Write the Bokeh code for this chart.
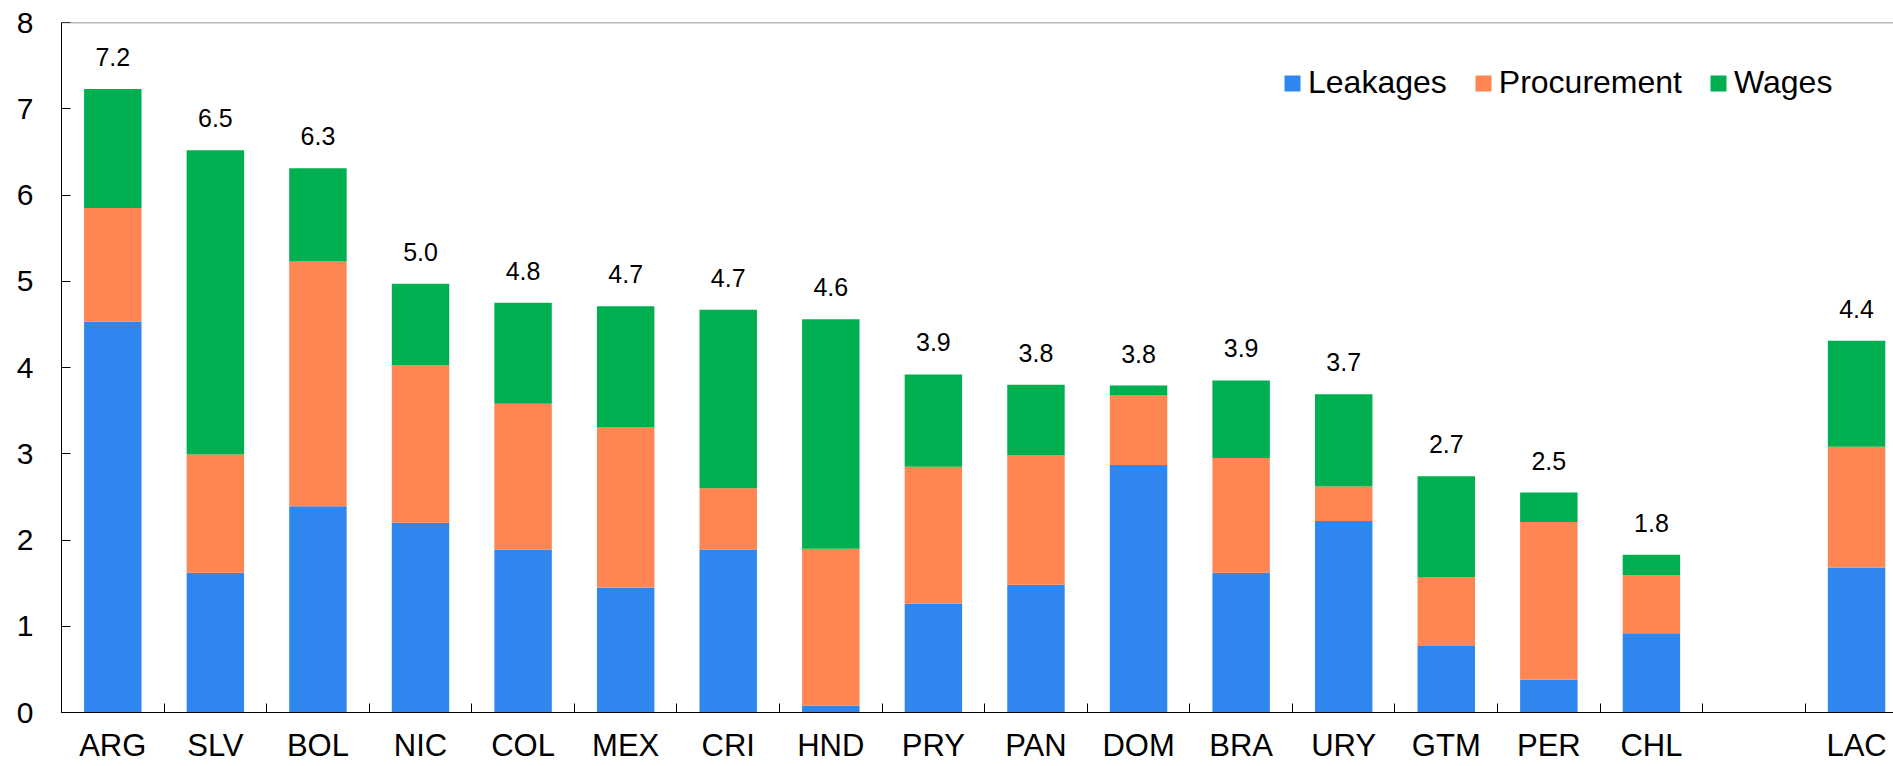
from bokeh.plotting import figure
from bokeh.models import (ColumnDataSource, Range1d, FixedTicker, Span, LabelSet,
                          Legend)
from bokeh.core.properties import value
from bokeh.embed import file_html
from bokeh.resources import INLINE

# ---- data ----
countries = ["ARG", "SLV", "BOL", "NIC", "COL", "MEX", "CRI", "HND", "PRY",
             "PAN", "DOM", "BRA", "URY", "GTM", "PER", "CHL", "LAC"]
leakages = [4.53, 1.62, 2.39, 2.20, 1.89, 1.45, 1.89, 0.08, 1.26,
            1.48, 2.87, 1.62, 2.22, 0.77, 0.38, 0.92, 1.68]
procurement = [1.32, 1.37, 2.84, 1.83, 1.69, 1.86, 0.71, 1.82, 1.59,
               1.50, 0.81, 1.33, 0.40, 0.80, 1.83, 0.67, 1.40]
wages = [1.38, 3.53, 1.08, 0.94, 1.17, 1.40, 2.07, 2.66, 1.07,
         0.82, 0.11, 0.90, 1.07, 1.17, 0.34, 0.24, 1.23]
total_labels = ["7.2", "6.5", "6.3", "5.0", "4.8", "4.7", "4.7", "4.6", "3.9",
                "3.8", "3.8", "3.9", "3.7", "2.7", "2.5", "1.8", "4.4"]
series = ["Leakages", "Procurement", "Wages"]
colors = ["#2E86EE", "#FF8552", "#00B050"]

# slot positions: one empty slot before the regional average (LAC)
n = len(countries)
slots = [i if i < n - 1 else i + 1 for i in range(n)]
xc = [s + 0.5 for s in slots]
totals = [a + b + c for a, b, c in zip(leakages, procurement, wages)]

FONT = "Liberation Sans"

source = ColumnDataSource(data=dict(x=xc, Leakages=leakages,
                                    Procurement=procurement, Wages=wages,
                                    total=totals, lab=total_labels))

p = figure(width=1893, height=766, output_backend="svg", toolbar_location=None,
           x_range=Range1d(0, 17.86), y_range=Range1d(0, 8),
           min_border_left=61, min_border_right=0, min_border_top=22,
           min_border_bottom=54)
p.outline_line_color = None
p.xgrid.visible = False
p.ygrid.visible = False
p.background_fill_color = "white"

renderers = p.vbar_stack(series, x="x", width=0.56, color=colors, source=source,
                         line_color=None)

legend = Legend(items=[(s, [r]) for s, r in zip(series, renderers)],
                orientation="horizontal", location=(1221, 611),
                padding=0, margin=0, spacing=26, label_standoff=6,
                glyph_width=20, glyph_height=20,
                label_text_font=FONT, label_text_font_size="32px",
                label_text_color="black",
                border_line_color=None, background_fill_alpha=0)
p.add_layout(legend, "center")

# y axis
ya = p.yaxis[0]
ya.ticker = FixedTicker(ticks=list(range(0, 9)))
ya.major_tick_in = 9
ya.major_tick_out = 0
ya.minor_tick_line_color = None
ya.major_label_standoff = 28
ya.major_label_text_font = FONT
ya.major_label_text_font_size = "30px"
ya.major_label_text_color = "black"
ya.axis_line_color = "black"
ya.major_tick_line_color = "black"

# x axis: labels at bar centres, tick marks at slot boundaries
xa = p.xaxis[0]
xa.ticker = FixedTicker(ticks=xc, minor_ticks=list(range(1, 18)))
xa.major_label_overrides = {x: c for x, c in zip(xc, countries)}
xa.minor_tick_in = 9
xa.minor_tick_out = 0
xa.major_tick_out = 0
xa.major_tick_in = 0
xa.major_tick_line_color = None
xa.major_label_standoff = 15
xa.major_label_text_font = FONT
xa.major_label_text_font_size = "31px"
xa.major_label_text_color = "black"
xa.axis_line_color = "black"
xa.minor_tick_line_color = "black"

# top border line
p.add_layout(Span(location=8, dimension="width", line_color="#777777",
                  line_width=1.5))

# value labels
val_labels = LabelSet(x="x", y="total", text="lab", source=source,
                      text_align="center", text_baseline="alphabetic",
                      y_offset=23, text_font=value(FONT),
                      text_font_size=value("25px"), text_color="black")
p.add_layout(val_labels)

open("out.html", "w").write(file_html(p, INLINE))
